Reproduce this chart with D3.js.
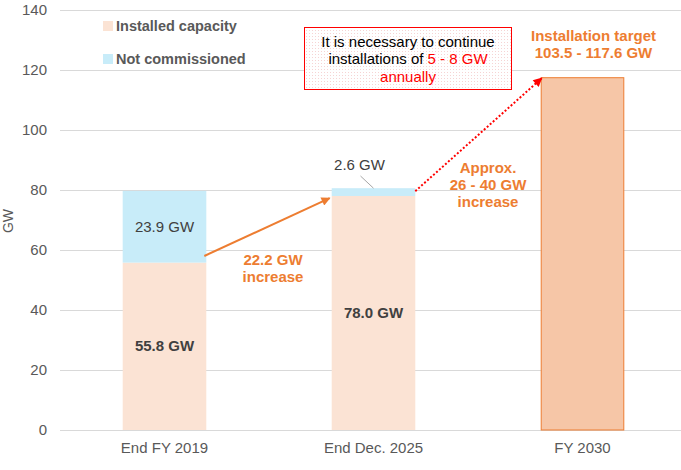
<!DOCTYPE html>
<html lang="en">
<head>
<meta charset="utf-8"/>
<style>
body { margin: 0; background: #fff; }
svg text { font-family: "Liberation Sans", Arial, sans-serif; }
.axis .domain { display: none; }
</style>
</head>
<body>
<svg width="681" height="470"></svg>
<script src="https://d3js.org/d3.v7.min.js"></script>
<script>

// chart values
var categories = ["End FY 2019", "End Dec. 2025", "FY 2030"];
var installed = [55.8, 78.0];
var notCommissioned = [23.9, 2.6];
var targetLow = 103.5, targetHigh = 117.6;
var yTicks = [0, 20, 40, 60, 80, 100, 120, 140];
var seriesNames = ["Installed capacity", "Not commissioned"];

var svg = d3.select("svg"),
    width = +svg.attr("width");

var colInstalled = "#fbe3d4",
    colNotComm = "#c8ecf9",
    colTarget = "#f6c6a7",
    orange = "#ed7d31",
    red = "#ff0000",
    grey = "#595959",
    dark = "#404040";

var x = d3.scaleBand()
    .domain(categories)
    .range([60, 687])
    .paddingInner(0.6)
    .paddingOuter(0.3);

var y = d3.scaleLinear()
    .domain([0, 140])
    .range([430, 10]);

var defs = svg.append("defs");

// dotted fill of the callout box
var pat = defs.append("pattern")
    .attr("id", "dots")
    .attr("width", 3).attr("height", 3)
    .attr("patternUnits", "userSpaceOnUse");
pat.append("rect").attr("width", 3).attr("height", 3).attr("fill", "#fff");
pat.append("rect").attr("width", 1).attr("height", 1).attr("fill", "#f6d4d4");

function marker(id, color) {
  defs.append("marker")
      .attr("id", id)
      .attr("viewBox", "0 0 10 10")
      .attr("refX", 9).attr("refY", 5)
      .attr("markerWidth", 11).attr("markerHeight", 9)
      .attr("markerUnits", "userSpaceOnUse")
      .attr("orient", "auto")
    .append("path")
      .attr("d", "M0,0L10,5L0,10z")
      .attr("fill", color);
}
marker("headOrange", orange);
marker("headRed", red);

// gridlines
svg.append("g")
  .selectAll("line")
  .data(yTicks)
  .enter().append("line")
    .attr("x1", 60).attr("x2", width)
    .attr("y1", function(d) { return y(d) + 0.5; })
    .attr("y2", function(d) { return y(d) + 0.5; })
    .attr("stroke", "#d9d9d9")
    .attr("stroke-width", 1);

// y axis
svg.append("g")
    .attr("class", "axis")
    .attr("transform", "translate(60,0)")
    .call(d3.axisLeft(y).tickValues(yTicks).tickSize(0).tickPadding(13))
    .call(function(g) {
      g.selectAll("text").attr("fill", grey).attr("font-size", 15)
       .style("font-family", "'Liberation Sans', Arial, sans-serif");
    });

svg.append("text")
    .attr("transform", "translate(13,221) rotate(-90)")
    .attr("text-anchor", "middle")
    .attr("fill", grey)
    .attr("font-size", 14)
    .text("GW");

// x axis
svg.append("g")
    .attr("class", "axis")
    .attr("transform", "translate(0,430)")
    .call(d3.axisBottom(x).tickSize(0).tickPadding(12))
    .call(function(g) {
      g.selectAll("text").attr("fill", grey).attr("font-size", 15)
       .style("font-family", "'Liberation Sans', Arial, sans-serif");
    });

// stacked bars
var stackRows = installed.map(function(v, i) {
  return { cat: categories[i], installed: v, notComm: notCommissioned[i] };
});
var stacked = d3.stack().keys(["installed", "notComm"])(stackRows);
var colors = [colInstalled, colNotComm];

svg.append("g")
  .selectAll("g")
  .data(stacked)
  .enter().append("g")
    .attr("fill", function(d, i) { return colors[i]; })
  .selectAll("rect")
  .data(function(d) { return d; })
  .enter().append("rect")
    .attr("x", function(d) { return x(d.data.cat); })
    .attr("y", function(d) { return y(d[1]); })
    .attr("height", function(d) { return y(d[0]) - y(d[1]); })
    .attr("width", x.bandwidth());

// target bar
svg.append("rect")
    .attr("x", x(categories[2]) + 0.5)
    .attr("y", y(targetHigh) + 0.5)
    .attr("width", x.bandwidth() - 1)
    .attr("height", y(0) - y(targetHigh) - 0.5)
    .attr("fill", colTarget)
    .attr("stroke", orange)
    .attr("stroke-width", 1);

// value labels
var cx = function(i) { return x(categories[i]) + x.bandwidth() / 2; };

svg.append("text")
    .attr("x", cx(0)).attr("y", y(installed[0] / 2) + 5)
    .attr("text-anchor", "middle").attr("font-size", 15)
    .attr("font-weight", "bold").attr("fill", dark)
    .text(installed[0].toFixed(1) + " GW");

svg.append("text")
    .attr("x", cx(1)).attr("y", y(installed[1] / 2) + 5)
    .attr("text-anchor", "middle").attr("font-size", 15)
    .attr("font-weight", "bold").attr("fill", dark)
    .text(installed[1].toFixed(1) + " GW");

svg.append("text")
    .attr("x", cx(0)).attr("y", y(installed[0] + notCommissioned[0] / 2) + 5)
    .attr("text-anchor", "middle").attr("font-size", 15)
    .attr("fill", dark)
    .text(notCommissioned[0].toFixed(1) + " GW");

svg.append("text")
    .attr("x", cx(1) - 14).attr("y", 170)
    .attr("text-anchor", "middle").attr("font-size", 15)
    .attr("fill", dark)
    .text(notCommissioned[1].toFixed(1) + " GW");

// leader line for small segment
svg.append("line")
    .attr("x1", cx(1) - 13).attr("y1", 176)
    .attr("x2", cx(1)).attr("y2", y(installed[1] + notCommissioned[1]))
    .attr("stroke", "#a6a6a6").attr("stroke-width", 1);

// solid orange arrow
svg.append("line")
    .attr("x1", x(categories[0]) + x.bandwidth() - 2)
    .attr("y1", y(58))
    .attr("x2", x(categories[1]) - 2)
    .attr("y2", y(77.3))
    .attr("stroke", orange).attr("stroke-width", 2)
    .attr("marker-end", "url(#headOrange)");

// dotted red arrow
svg.append("line")
    .attr("x1", x(categories[1]) + x.bandwidth())
    .attr("y1", y(installed[1] + notCommissioned[1]) + 3)
    .attr("x2", x(categories[2]) + 1)
    .attr("y2", y(targetHigh) + 1)
    .attr("stroke", red).attr("stroke-width", 2)
    .attr("stroke-dasharray", "2,2")
    .attr("marker-end", "url(#headRed)");

// orange annotations
function block(lines, px, py, lh, color) {
  var t = svg.append("text")
      .attr("text-anchor", "middle")
      .attr("font-size", 15)
      .attr("font-weight", "bold")
      .attr("fill", color);
  lines.forEach(function(s, i) {
    t.append("tspan").attr("x", px).attr("y", py + i * lh).text(s);
  });
}
block(["22.2 GW", "increase"], 273, 265, 17, orange);
block(["Approx.", "26 - 40 GW", "increase"], 488, 173, 17, orange);
block(["Installation target", targetLow + " - " + targetHigh + " GW"], cx(2) + 11, 41, 17, orange);

// callout box
svg.append("rect")
    .attr("x", 304.5).attr("y", 27.5)
    .attr("width", 207).attr("height", 62)
    .attr("fill", "url(#dots)")
    .attr("stroke", red).attr("stroke-width", 1);

var cb = svg.append("text")
    .attr("text-anchor", "middle")
    .attr("font-size", 15)
    .attr("fill", "#000");
cb.append("tspan").attr("x", 408).attr("y", 47).text("It is necessary to continue");
var l2 = cb.append("tspan").attr("x", 408).attr("y", 64);
l2.append("tspan").text("installations of ");
l2.append("tspan").attr("fill", red).text("5 - 8 GW");
cb.append("tspan").attr("x", 408).attr("y", 82).attr("fill", red).text("annually");

// legend
var legend = svg.append("g")
  .selectAll("g")
  .data(seriesNames)
  .enter().append("g")
    .attr("transform", function(d, i) { return "translate(103," + (21 + i * 33) + ")"; });

legend.append("rect")
    .attr("width", 10).attr("height", 10)
    .attr("fill", function(d, i) { return colors[i]; });

legend.append("text")
    .attr("x", 13).attr("y", 9.5)
    .attr("font-size", 14.5)
    .attr("font-weight", "bold")
    .attr("fill", grey)
    .text(function(d) { return d; });

</script>
</body>
</html>
